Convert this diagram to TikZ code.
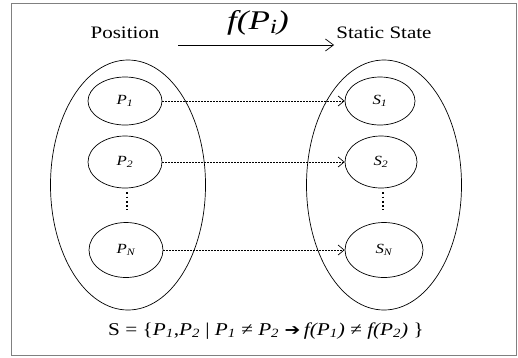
\documentclass[tikz,border=0pt]{standalone}
\usepackage{fontspec}
\setmainfont{Liberation Serif}
\newfontfamily\symfont{DejaVu Sans}
\usepackage{tikz}
\usetikzlibrary{shapes,arrows,arrows.meta,positioning}

\newcommand{\sub}[1]{\textsubscript{\textit{#1}}}
\newcommand{\widetext}[1]{\scalebox{1.2}[1]{#1}}

\begin{document}
\begin{tikzpicture}[x=1pt, y=-1pt,
    bigset/.style={draw, ellipse, line width=0.7pt, minimum width=155pt, minimum height=250pt, inner sep=0pt},
    elem/.style={draw, ellipse, line width=0.7pt, minimum width=74pt, minimum height=52pt, inner sep=0pt, font=\fontsize{14}{16}\selectfont\itshape},
    head/.style={font=\fontsize{17.5}{21}\selectfont},
    maplink/.style={-{Straight Barb[length=6pt, width=10pt]}, dash pattern=on 2pt off 1pt, line width=0.7pt}
]
% frame
\useasboundingbox (0,0) rectangle (518,357);
\draw[gray, line width=1.5pt] (11.5,3.5) rectangle (516.5,355.5);

% headings
\node[head] (postitle) at (125,33) {\widetext{Position}};
\node[head] (sttitle) at (384,33) {\widetext{Static State}};
\node[font=\fontsize{27}{30}\selectfont\itshape] (ftitle) at (258,23) {\scalebox{1.3}[1]{f(P{\fontsize{20}{22}\selectfont\raisebox{-4pt}{i}})}};
\coordinate (fa) at (178,45);
\coordinate (fb) at (334,45);
\draw[-{Straight Barb[length=8pt, width=12pt]}, line width=0.7pt] (fa) -- (fb);

% sets
\node[bigset] (posset) at (128,185) {};
\node[bigset] (stset) at (384,185) {};

% elements - positions
\node[elem, minimum height=48pt] (p1) at (125,101) {\widetext{P\sub{1}}};
\node[elem] (p2) at (125,162) {\widetext{P\sub{2}}};
\node[elem, minimum height=55pt] (pn) at (126,250) {\widetext{P\sub{N}}};

% elements - states
\node[elem, minimum width=70pt, minimum height=48pt] (s1) at (380,101) {\widetext{S\sub{1}}};
\node[elem, minimum width=72pt] (s2) at (381,162) {\widetext{S\sub{2}}};
\node[elem, minimum width=78pt, minimum height=55pt] (sn) at (384,250) {\widetext{S\sub{N}}};

% vertical dots
\draw[line width=1.8pt, dash pattern=on 1.8pt off 2.4pt] (p2.south) ++(2,4) coordinate (pd) -- ++(0,18);
\draw[line width=1.8pt, dash pattern=on 1.8pt off 2.4pt] (s2.south) ++(2,4) coordinate (sd) -- ++(0,18);

% mappings
\draw[maplink] (p1) -- (s1);
\draw[maplink] (p2) -- (s2);
\draw[maplink] (pn) -- (sn);

% definition
\node[font=\fontsize{18}{21}\selectfont] (defn) at (266,331)
  {\scalebox{1.18}[1]{S = \{\textit{P\sub{1}},\textit{P\sub{2}} | \textit{P\sub{1}} ≠ \textit{P\sub{2}} {\symfont\fontsize{16}{18}\selectfont ➔}\,\textit{f(P\sub{1})} ≠ \textit{f(P\sub{2})} \}}};
\end{tikzpicture}
\end{document}
